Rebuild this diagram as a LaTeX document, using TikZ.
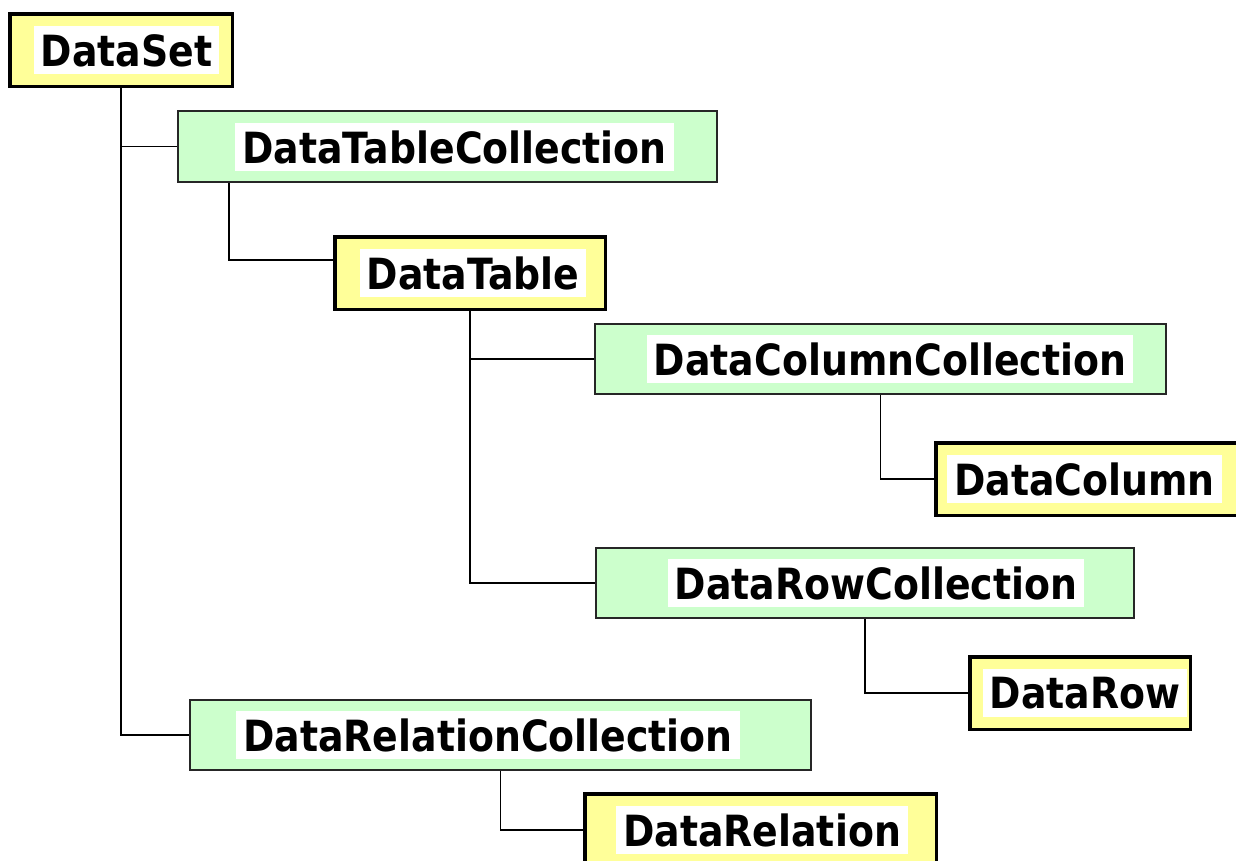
\documentclass[tikz,border=0pt]{standalone}
\usepackage{fontspec}
\setmainfont{DejaVu Sans}[FakeStretch=0.88]
\definecolor{boxyellow}{HTML}{FFFF99}
\definecolor{boxgreen}{HTML}{CCFFCC}
\begin{document}
\begin{tikzpicture}[x=1pt, y=-1pt, line width=1.8pt,
	ybox/.style={rectangle, draw=black, line width=3.5pt, fill=boxyellow,
				inner sep=0, minimum height=72.5pt},
	gbox/.style={rectangle, draw=black!85, line width=1.8pt, fill=boxgreen,
				inner sep=0, minimum height=70.5pt},
	lbl/.style={fill=white, inner xsep=7pt, inner ysep=0, minimum height=48pt,
				font=\fontsize{43}{43}\selectfont\bfseries}]
	\useasboundingbox (0,0) rectangle (1236,861);
	\clip (0,0) rectangle (1236,861);
	\fill[white] (0,0) rectangle (1236,861);
	% boxes
	\node[ybox, minimum width=222.5pt] (dataset) at (121,50.5) {};
	\node[gbox, minimum width=539.5pt] (dtc) at (447.5,146.5) {};
	\node[ybox, minimum width=270.5pt] (dtable) at (470,273) {};
	\node[gbox, minimum width=571.5pt] (dcc) at (880.5,359) {};
	\node[ybox, minimum width=302.5pt] (dcol) at (1087,479) {};
	\node[gbox, minimum width=538.5pt] (drc) at (865,583) {};
	\node[ybox, minimum width=220.5pt] (drow) at (1080,693) {};
	\node[gbox, minimum width=621.5pt] (drelc) at (500.5,735) {};
	\node[ybox, minimum width=351.5pt] (drel) at (760.5,830) {};
	% labels
	\node[lbl] (dataset-l) at (126.5,50.5) {DataSet};
	\node[lbl] (dtc-l) at (454.5,147) {DataTableCollection};
	\node[lbl] (dtable-l) at (473,273) {DataTable};
	\node[lbl] (dcc-l) at (890,359) {DataColumnCollection};
	\node[lbl] (dcol-l) at (1084.5,479) {DataColumn};
	\node[lbl] (drc-l) at (876,583) {DataRowCollection};
	\node[lbl] (drow-l) at (1085,693) {DataRow};
	\node[lbl] (drelc-l) at (488,735) {DataRelationCollection};
	\node[lbl] (drel-l) at (762,830) {DataRelation};
	% connectors
	\draw (dataset.south) |- (dtc.west);
	\draw (dataset.south) |- (drelc.west);
	\draw ([xshift=52pt]dtc.south west) |- ([yshift=13pt]dtable.west);
	\draw (dtable.south) |- (dcc.west);
	\draw (dtable.south) |- (drc.west);
	\draw (dcc.south) |- (dcol.west);
	\draw (drc.south) |- (drow.west);
	\draw (drelc.south) |- (drel.west);
\end{tikzpicture}
\end{document}
